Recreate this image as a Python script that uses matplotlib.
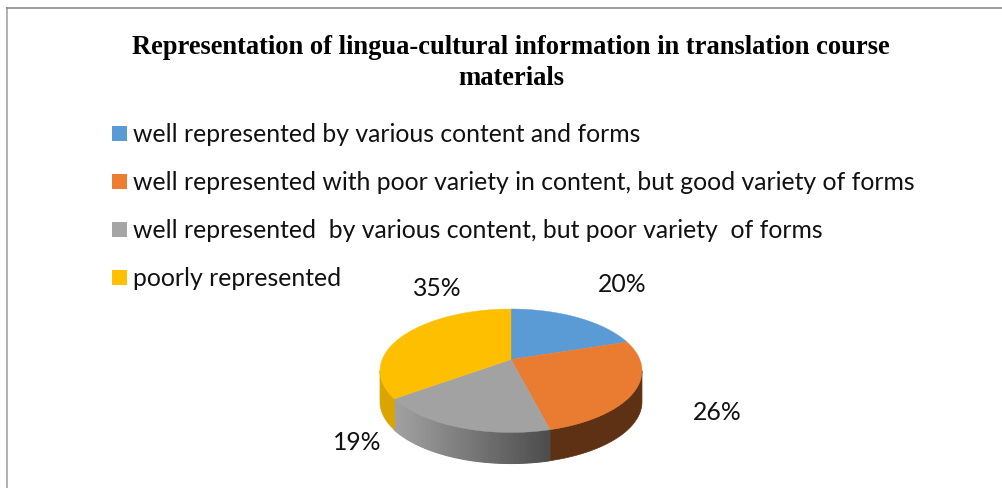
import numpy as np
import matplotlib
matplotlib.use("Agg")
import matplotlib.pyplot as plt

title_lines = ["Representation of lingua-cultural information in translation course", "materials"]
categories = ["well represented by various content and forms",
              "well represented with poor variety in content, but good variety of forms",
              "well represented  by various content, but poor variety  of forms",
              "poorly represented"]
values = [20, 26, 19, 35]
top_colors = ["#5b9bd5", "#e97c31", "#a2a2a2", "#fdbf00"]
legend_colors = ["#5b9bd5", "#ed7d31", "#a5a5a5", "#ffc000"]
side_left = ["#3a6a96", "#5f3114", "#a2a2a2", "#dba500"]
side_right = ["#3a6a96", "#5f3114", "#4c4c4c", "#dba500"]
label_xy = [(622.5, 285), (717.5, 412), (357.5, 442), (437, 289)]

fig = plt.figure(figsize=(10.02, 4.89), dpi=100)
ax = fig.add_axes([0, 0, 1, 1])
ax.set_xlim(0, 1002)
ax.set_ylim(489, 0)
ax.axis("off")

# frame: open on the right and bottom
ax.plot([6.8, 6.8], [8, 489], color="#ababab", lw=1.3, solid_capstyle="butt")
ax.plot([6, 1002], [8.5, 8.5], color="#8a8a8a", lw=1.2, solid_capstyle="butt")

# title
for line, y in zip(title_lines, [48, 78.5]):
    ax.text(511, y, line, ha="center", va="center", family="Liberation Serif",
            weight="bold", fontsize=19.1, color="black")

FONT = "Lato"
FS = 17.85
# legend
leg_y = [134.5, 182.5, 230.5, 278.5]
for c, col, y in zip(categories, legend_colors, leg_y):
    ax.fill([112, 127, 127, 112], [y - 7.5, y - 7.5, y + 7.5, y + 7.5], color=col, lw=0)
    ax.text(133, y, c, ha="left", va="center", family=FONT, fontsize=FS, color="#111111")

# perspective disk
CX, CY, A, B, K, DEPTH = 511, 360.5, 128.8, 59.7, 0.182, 31

def rim(theta):
    u, v = np.sin(theta), np.cos(theta)
    w = 1 + K * v
    return CX + A * u / w, CY - B * v / w

fractions = np.array(values) / sum(values)
edges = np.concatenate([[0], np.cumsum(fractions)]) * 2 * np.pi

# sides: only the front portion of the rim shows, from one widest point to the other
theta_l = np.pi / 2 + np.arcsin(K)
theta_r = 3 * np.pi / 2 - np.arcsin(K)
for i in range(len(values)):
    a0, a1 = max(edges[i], theta_l), min(edges[i + 1], theta_r)
    if a1 <= a0:
        continue
    ts = np.linspace(a0, a1, 90)
    xs, ys = rim(ts)
    if side_left[i] == side_right[i]:
        ax.fill(np.r_[xs, xs[::-1]], np.r_[ys, ys[::-1] + DEPTH],
                color=side_left[i], lw=0.5, ec=side_left[i])
        continue
    c0 = np.array(matplotlib.colors.to_rgb(side_left[i]))
    c1 = np.array(matplotlib.colors.to_rgb(side_right[i]))
    xmin, xmax = xs.min(), xs.max()
    for j in range(len(ts) - 1):
        f = (xs[j] - xmin) / max(xmax - xmin, 1)
        col = c0 + (c1 - c0) * f
        ax.fill([xs[j], xs[j + 1], xs[j + 1], xs[j]],
                [ys[j], ys[j + 1], ys[j + 1] + DEPTH, ys[j] + DEPTH],
                color=col, lw=0.8, ec=col)

# top face
for i, col in enumerate(top_colors):
    ts = np.linspace(edges[i], edges[i + 1], 120)
    xs, ys = rim(ts)
    ax.fill(np.r_[CX, xs], np.r_[CY, ys], color=col, lw=0.3, ec=col)

for v, (x, y) in zip(values, label_xy):
    ax.text(x, y, f"{v}%", ha="center", va="center", family=FONT, fontsize=FS, color="#111111")

fig.savefig("out.png", dpi=100, facecolor="white")
